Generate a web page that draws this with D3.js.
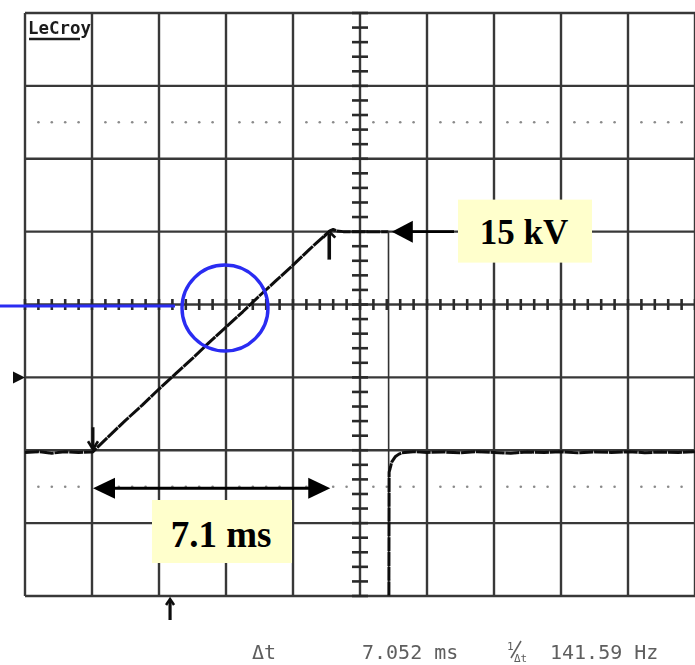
<!DOCTYPE html>
<html>
<head>
<meta charset="utf-8">
<script src="https://cdn.jsdelivr.net/npm/d3@7/dist/d3.min.js"></script>
<style>
  html, body { margin: 0; padding: 0; background: #ffffff; }
  svg { display: block; }
</style>
</head>
<body>
<svg id="scope" width="695" height="665"></svg>
<script>
// Oscilloscope capture: 2 ms/div horizontally, 5 kV/div vertically.
const timeDomain = [-10, 10];      // ms, 10 divisions
const voltDomain = [-10, 30];      // kV, 8 divisions
const timeGrid = d3.range(-10, 10.001, 2);
const voltGrid = d3.range(-10, 30.001, 5);
const dottedLevels = [22.5, -2.5];  // kV, dotted reference lines

// Captured trace (ms, kV)
const traceTime = [
  -10, -9.6, -9.2, -8.8, -8.4, -8.0, -7.97,
  -7.5, -7.0, -6.5, -6.0, -5.5, -5.0, -4.5, -4.0, -3.5, -3.0, -2.5, -2.0, -1.5, -1.0,
  -0.9, -0.8, -0.7, -0.5, 0.0, 0.5, 0.84
];
const traceKV = [
  -0.15, -0.1, -0.2, -0.1, -0.15, -0.12, -0.1,
  0.95, 2.05, 3.1, 4.2, 5.25, 6.3, 7.4, 8.45, 9.5, 10.6, 11.65, 12.7, 13.8, 14.85,
  15.05, 15.15, 15.05, 15.0, 15.0, 15.0, 15.0
];
// Fast fall edge and recovery after switch-off (ms, kV)
const fallTime = [0.84, 0.85, 0.86];
const fallKV = [15.0, 15.0, -12];
const recoveryTime = [
  0.86, 0.87, 0.95, 1.05, 1.15, 1.25,
  1.6, 2.0, 2.5, 3.0, 3.5, 4.0, 4.5, 5.0, 5.5, 6.0, 6.5, 7.0, 7.5, 8.0, 8.5, 9.0, 9.5, 10.0
];
const recoveryKV = [
  -12, -1.5, -0.8, -0.45, -0.28, -0.18,
  -0.1, -0.15, -0.12, -0.18, -0.1, -0.15, -0.2, -0.12, -0.15, -0.1, -0.18, -0.12, -0.15, -0.1, -0.17, -0.12, -0.15, -0.1
];

// Cursors and markers (ms)
const cursorA = -7.97;
const deltaT = 7.052;
const cursorB = cursorA + deltaT;
const triggerTime = -5.67;
const groundLevel = 5;             // kV, trigger-level marker on the left edge

// Annotations
const peakLabel = "15 kV";
const peakKV = 15;
const spanLabel = "7.1 ms";
const circleCenter = { t: -4.03, kv: 9.76 };
const readoutLabels = ["Δt", "7.052 ms", "141.59 Hz"];

const svg = d3.select("#scope");
const x = d3.scaleLinear().domain(timeDomain).range([25, 695]);
const y = d3.scaleLinear().domain(voltDomain).range([596, 13]);

const defs = svg.append("defs");
defs.append("filter").attr("id", "soft")
  .append("feGaussianBlur").attr("stdDeviation", 0.6);
defs.append("clipPath").attr("id", "screen")
  .append("rect").attr("x", x(-10)).attr("y", y(30))
  .attr("width", x(10) - x(-10)).attr("height", y(-10) - y(30));

const screen = svg.append("g").attr("filter", "url(#soft)");

// Graticule
screen.append("g").selectAll("line").data(timeGrid).join("line")
  .attr("x1", d => x(d)).attr("x2", d => x(d))
  .attr("y1", y(30)).attr("y2", y(-10))
  .attr("stroke", "#383838").attr("stroke-width", 2.4);
screen.append("g").selectAll("line").data(voltGrid).join("line")
  .attr("x1", x(-10)).attr("x2", x(10))
  .attr("y1", d => y(d)).attr("y2", d => y(d))
  .attr("stroke", "#383838").attr("stroke-width", 2.4);

// Dotted reference levels
const dotTimes = d3.range(-10, 10.001, 0.4).filter(t => Math.abs(t / 2 - Math.round(t / 2)) > 0.01);
dottedLevels.forEach(lv => {
  screen.append("g").selectAll("circle").data(dotTimes).join("circle")
    .attr("cx", d => x(d)).attr("cy", y(lv)).attr("r", 1.3)
    .attr("fill", "#8a8a8a");
});

// Center axes with minor ticks
const tMinor = d3.range(-10, 10.001, 0.4);
screen.append("g").selectAll("line").data(tMinor).join("line")
  .attr("x1", d => x(d)).attr("x2", d => x(d))
  .attr("y1", y(10) - 5.5).attr("y2", y(10) + 5.5)
  .attr("stroke", "#2a2a2a").attr("stroke-width", 2.6);
const vMinor = d3.range(-10, 30.001, 1);
screen.append("g").selectAll("line").data(vMinor).join("line")
  .attr("x1", x(0) - 8).attr("x2", x(0) + 8)
  .attr("y1", d => y(d)).attr("y2", d => y(d))
  .attr("stroke", "#2a2a2a").attr("stroke-width", 2.6);

// Trace
const line = d3.line().x(d => x(d[0])).y(d => y(d[1]));
const traceG = screen.append("g").attr("clip-path", "url(#screen)")
  .attr("fill", "none").attr("stroke-linejoin", "round");
traceG.append("path").datum(d3.zip(traceTime, traceKV))
  .attr("d", line).attr("stroke", "#111").attr("stroke-width", 3)
  .attr("stroke-dasharray", "14 0.8");
traceG.append("path").datum(d3.zip(fallTime, fallKV))
  .attr("d", line).attr("stroke", "#333").attr("stroke-width", 1.6);
traceG.append("path").datum(d3.zip(recoveryTime, recoveryKV))
  .attr("d", line).attr("stroke", "#111").attr("stroke-width", 3)
  .attr("stroke-dasharray", "14 0.8");

// Cursor markers
const downA = screen.append("g").attr("transform", `translate(${x(cursorA)},${y(0)})`);
downA.append("line").attr("x1", 0).attr("x2", 0).attr("y1", -23).attr("y2", -2)
  .attr("stroke", "#111").attr("stroke-width", 3);
downA.append("path").attr("d", "M-5,-9 L0,-1 L5,-9").attr("fill", "none")
  .attr("stroke", "#111").attr("stroke-width", 2.6);

const upB = screen.append("g").attr("transform", `translate(${x(cursorB)},${y(peakKV)})`);
upB.append("line").attr("x1", 0).attr("x2", 0).attr("y1", 2).attr("y2", 28)
  .attr("stroke", "#111").attr("stroke-width", 3.6);
upB.append("path").attr("d", "M-6,6 L0,0 L6,6").attr("fill", "none")
  .attr("stroke", "#111").attr("stroke-width", 2.8);

// Trigger position marker below the screen
const trig = screen.append("g").attr("transform", `translate(${x(triggerTime)},${y(-10)})`);
trig.append("line").attr("x1", 0).attr("x2", 0).attr("y1", 4).attr("y2", 24)
  .attr("stroke", "#111").attr("stroke-width", 3.2);
trig.append("path").attr("d", "M-4,9 L0,3 L4,9").attr("fill", "none")
  .attr("stroke", "#111").attr("stroke-width", 2.6);

// Trigger level marker on the left edge
screen.append("path")
  .attr("d", `M${x(-10) - 12},${y(groundLevel) - 6} L${x(-10)},${y(groundLevel)} L${x(-10) - 12},${y(groundLevel) + 6} Z`)
  .attr("fill", "#111");

// Brand logo
const logo = screen.append("g");
logo.append("text").attr("x", x(-10) + 3).attr("y", y(30) + 21)
  .attr("font-family", "DejaVu Sans Mono").attr("font-weight", "bold")
  .attr("font-size", 18).attr("textLength", 63).attr("lengthAdjust", "spacingAndGlyphs")
  .attr("fill", "#1a1a1a").text("LeCroy");
logo.append("line").attr("x1", x(-10) + 4).attr("x2", x(-10) + 55)
  .attr("y1", y(30) + 26).attr("y2", y(30) + 26)
  .attr("stroke", "#1a1a1a").attr("stroke-width", 2.6);

// Measurement readout
const readout = screen.append("g")
  .attr("font-family", "DejaVu Sans Mono").attr("font-size", 20).attr("fill", "#5e5e5e");
readout.append("text").attr("x", 252).attr("y", 659).text(readoutLabels[0]);
readout.append("text").attr("x", 362).attr("y", 659).text(readoutLabels[1]);
readout.append("text").attr("x", 550).attr("y", 659).text(readoutLabels[2]);
const inv = readout.append("g").attr("font-size", 11);
inv.append("text").attr("x", 507).attr("y", 650).text("1");
inv.append("line").attr("x1", 511).attr("y1", 658).attr("x2", 521).attr("y2", 641)
  .attr("stroke", "#5e5e5e").attr("stroke-width", 1.5);
inv.append("text").attr("x", 514).attr("y", 662).text("Δt");

// ---- Annotations ----
const ann = svg.append("g");

// Blue marker: horizontal lead-in and circle around the mid-ramp point
const cx = x(circleCenter.t), cy = y(circleCenter.kv), r = 43;
ann.append("line").attr("x1", 0).attr("x2", cx - r - 7)
  .attr("y1", cy - 2).attr("y2", cy - 2)
  .attr("stroke", "#2a2cf2").attr("stroke-width", 3);
ann.append("circle").attr("cx", cx).attr("cy", cy).attr("r", r)
  .attr("fill", "none").attr("stroke", "#2a2cf2").attr("stroke-width", 3.4);

// Arrow pointing at the peak level
const tipX = x(0.95), py = y(peakKV);
ann.append("line").attr("x1", tipX + 15).attr("x2", 454).attr("y1", py).attr("y2", py)
  .attr("stroke", "#000").attr("stroke-width", 2.6);
ann.append("path").attr("d", `M${tipX},${py} L${tipX + 21},${py - 11} L${tipX + 21},${py + 11} Z`)
  .attr("fill", "#000");

// Peak label box
ann.append("rect").attr("x", 458).attr("y", py - 32).attr("width", 134).attr("height", 63)
  .attr("fill", "#ffffcc");
ann.append("text").attr("x", 524).attr("y", py + 12)
  .attr("text-anchor", "middle").attr("font-family", "Liberation Serif")
  .attr("font-weight", "bold").attr("font-size", 35).attr("fill", "#000")
  .text(peakLabel);

// Double arrow spanning the ramp duration
const ay = y(-2.6), xa = x(cursorA), xb = x(cursorB) + 1;
ann.append("line").attr("x1", xa + 15).attr("x2", xb - 15).attr("y1", ay).attr("y2", ay)
  .attr("stroke", "#000").attr("stroke-width", 3);
ann.append("path").attr("d", `M${xa},${ay} L${xa + 22},${ay - 10.5} L${xa + 22},${ay + 10.5} Z`)
  .attr("fill", "#000");
ann.append("path").attr("d", `M${xb},${ay} L${xb - 22},${ay - 10.5} L${xb - 22},${ay + 10.5} Z`)
  .attr("fill", "#000");

// Span label box
ann.append("rect").attr("x", 152).attr("y", 500).attr("width", 140).attr("height", 63)
  .attr("fill", "#ffffcc");
ann.append("text").attr("x", 221).attr("y", 547)
  .attr("text-anchor", "middle").attr("font-family", "Liberation Serif")
  .attr("font-weight", "bold").attr("font-size", 37).attr("fill", "#000")
  .text(spanLabel);
</script>
</body>
</html>
